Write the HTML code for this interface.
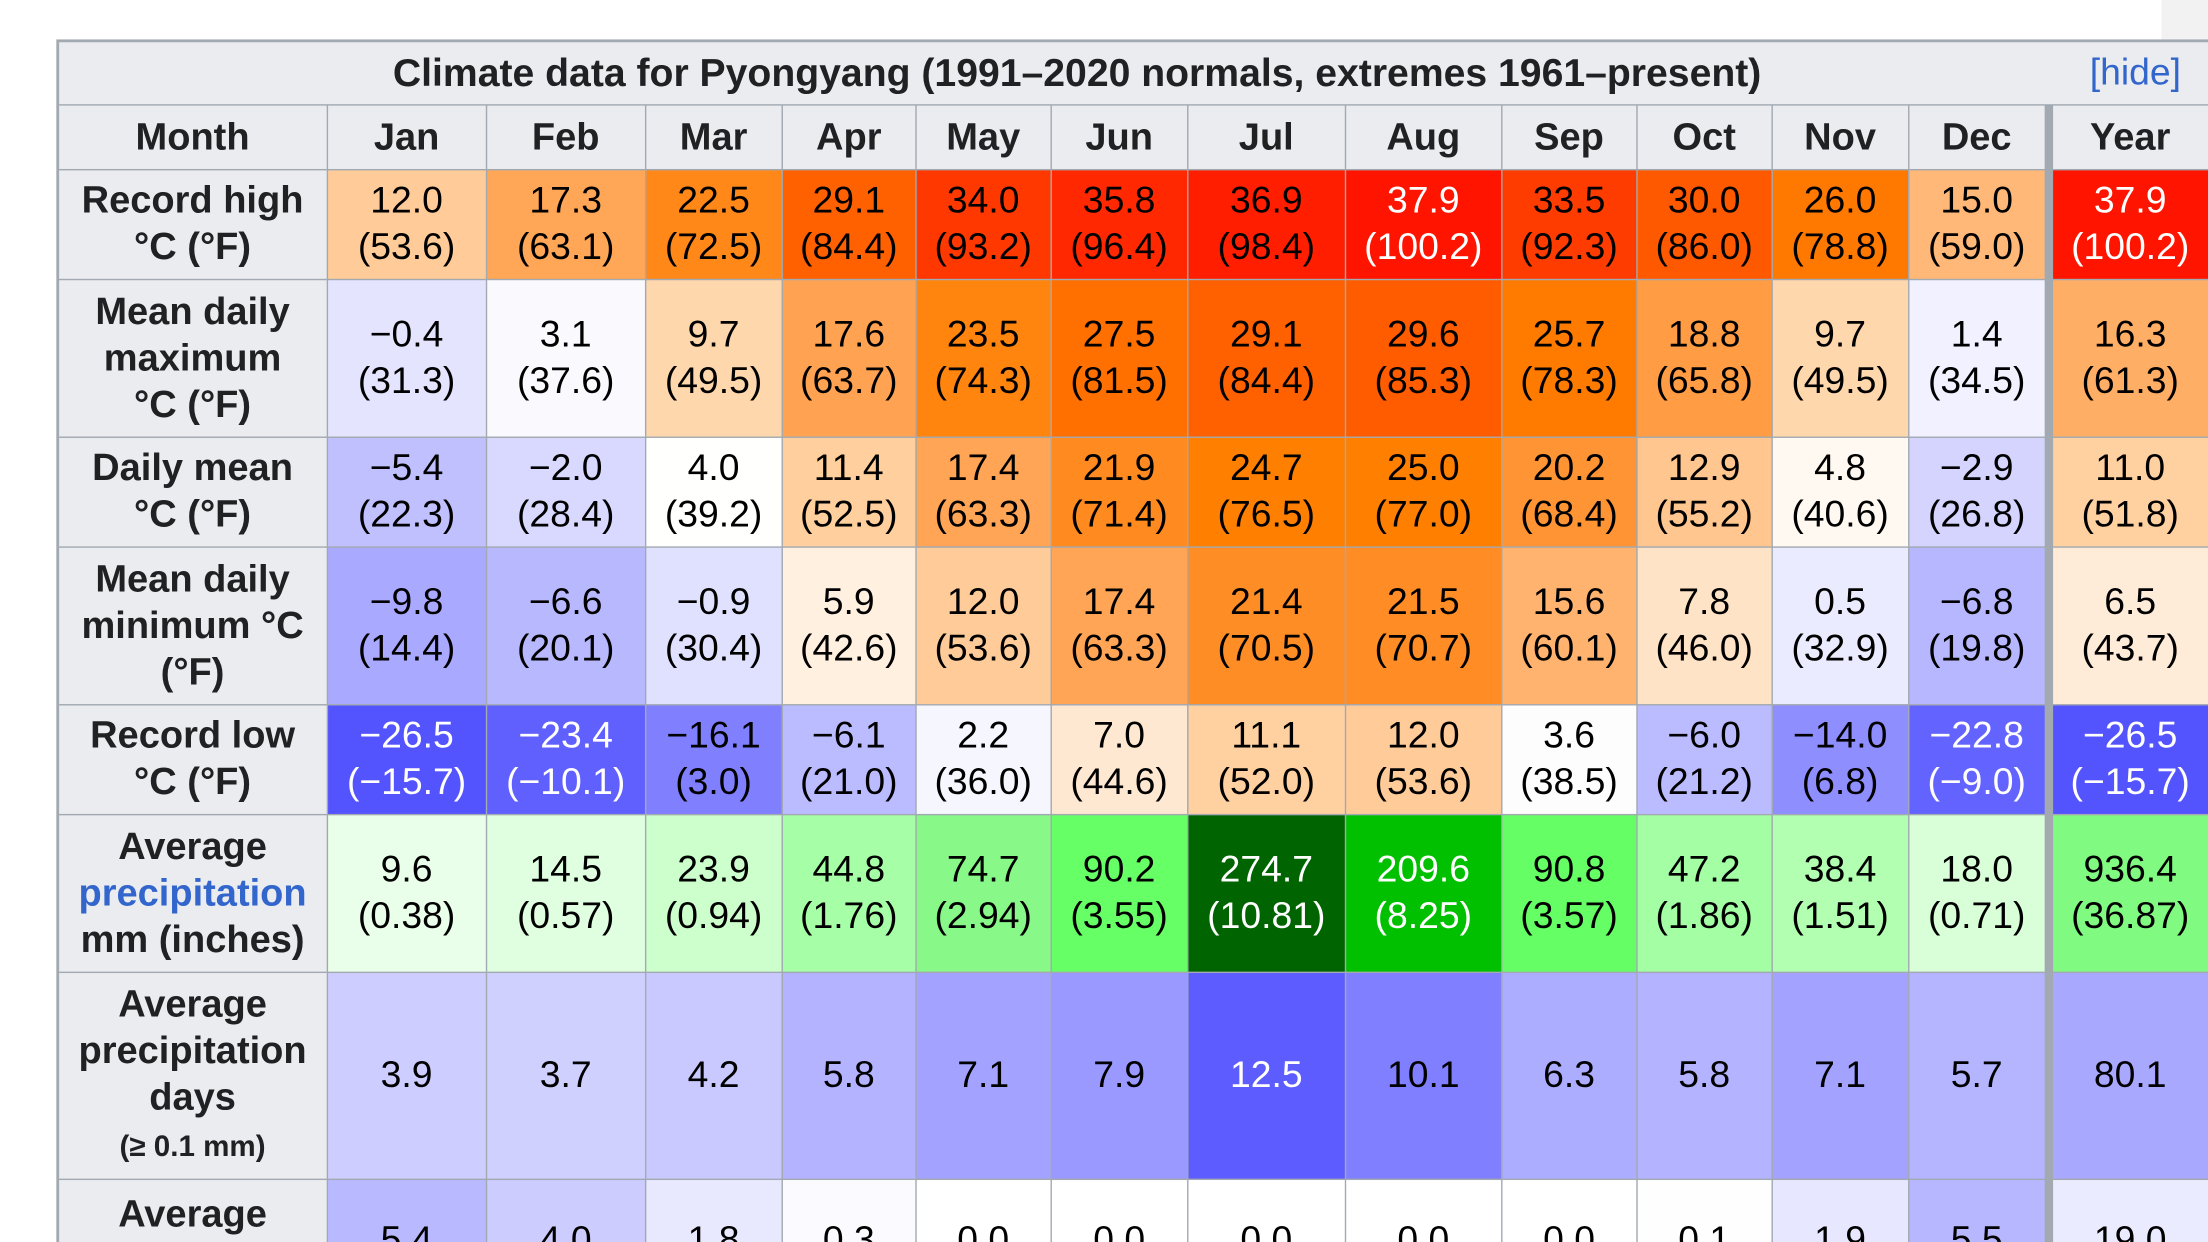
<!DOCTYPE html>
<html><head><meta charset="utf-8">
<style>
html,body{margin:0;padding:0;background:#fff;overflow:hidden;width:2208px;height:1242px}
#wrap{position:absolute;left:0;top:0;width:1568px;height:882px;transform:scale(1.408163);transform-origin:0 0;font-family:"Liberation Sans",Arial,sans-serif;color:#202122;overflow:hidden}
.c{position:absolute;display:flex;flex-direction:column;align-items:center;justify-content:center;text-align:center;font-size:26.5px;line-height:33px;box-sizing:border-box}
.h{background:#eaecf0;font-weight:bold;font-size:27px}
a{color:#3366cc;text-decoration:none}
</style></head><body>
<div id="wrap">
<div style="position:absolute;left:1535px;top:0;width:33px;height:30px;background:#f2f2f2"></div>
<div id="tbl" style="position:absolute;left:40px;top:28px;width:1540px;height:880px;background:#a2a9b1"></div>
</div>
<script>
const months=["Jan","Feb","Mar","Apr","May","Jun","Jul","Aug","Sep","Oct","Nov","Dec","Year"];
const recordHigh=[12.0,17.3,22.5,29.1,34.0,35.8,36.9,37.9,33.5,30.0,26.0,15.0,37.9];
const meanMax=[-0.4,3.1,9.7,17.6,23.5,27.5,29.1,29.6,25.7,18.8,9.7,1.4,16.3];
const dailyMean=[-5.4,-2.0,4.0,11.4,17.4,21.9,24.7,25.0,20.2,12.9,4.8,-2.9,11.0];
const meanMin=[-9.8,-6.6,-0.9,5.9,12.0,17.4,21.4,21.5,15.6,7.8,0.5,-6.8,6.5];
const recordLow=[-26.5,-23.4,-16.1,-6.1,2.2,7.0,11.1,12.0,3.6,-6.0,-14.0,-22.8,-26.5];
const precip=[9.6,14.5,23.9,44.8,74.7,90.2,274.7,209.6,90.8,47.2,38.4,18.0,936.4];
const precipDays=[3.9,3.7,4.2,5.8,7.1,7.9,12.5,10.1,6.3,5.8,7.1,5.7,80.1];
const snowDays=[5.4,4.0,1.8,0.3,0.0,0.0,0.0,0.0,0.0,0.1,1.9,5.5,19.0];

const colX=[41,232,345,458,555,650,746,843,955,1066,1162,1258,1355,1452];
const rowY=[120,198,310,388,500,578,690,837,910];

const tA=[[-30,[72,72,255]],[-26.5,[84,84,255]],[-23.4,[96,96,255]],[-16.1,[128,128,255]],[-9.8,[169,169,255]],[-6,[187,187,255]],[-2.9,[212,212,255]],[-0.9,[224,224,255]],[1.5,[242,242,255]],[4,[255,255,254]],[5.9,[255,240,224]],[7,[255,232,209]],[9.7,[255,215,172]],[12,[255,204,153]],[15,[255,184,120]],[17.5,[255,164,84]],[21.5,[255,140,36]],[24.8,[255,128,0]],[27.5,[255,112,0]],[29.6,[255,92,0]],[33.5,[255,60,0]],[35.8,[255,40,0]],[37.9,[255,20,0]],[45,[200,0,0]]];
const pA=[[0,[255,255,255]],[9.6,[234,255,234]],[23.9,[204,255,204]],[44.8,[166,255,166]],[74.7,[136,248,136]],[90,[102,255,102]],[209.6,[0,192,0]],[274.7,[0,100,0]],[400,[0,60,0]]];
const dA=[[0,[255,255,255]],[3.7,[208,208,255]],[5.8,[179,179,255]],[7.1,[163,163,255]],[10.1,[127,127,255]],[12.5,[92,92,255]],[20,[40,40,220]]];
function interp(a,v){if(v<=a[0][0])return a[0][1];for(let i=1;i<a.length;i++){if(v<=a[i][0]){const f=(v-a[i-1][0])/(a[i][0]-a[i-1][0]);return a[i-1][1].map((c,k)=>Math.round(c+(a[i][1][k]-c)*f));}}return a[a.length-1][1];}
const rgb=c=>`rgb(${c[0]},${c[1]},${c[2]})`;
const fmt=v=>(v<0?"\u2212":"")+Math.abs(v).toFixed(1);
const tbl=document.getElementById('tbl');
function cell(x0,y0,x1,y1,html,bg,color,name,cls){
  const d=document.createElement('div');
  d.className='c '+(cls||'');
  d.style.left=(x0+1-40)+'px';d.style.top=(y0+1-28)+'px';
  d.style.width=(x1-x0-1.5)+'px';d.style.height=(y1-y0-1.5)+'px';
  if(bg)d.style.background=bg; if(color)d.style.color=color;
  d.innerHTML='<div>'+html+'</div>';
  
  
  tbl.appendChild(d);return d;
}
const t=cell(41,29,1580,74,'<span style="position:absolute;left:237px;top:5px;font-size:27.8px">Climate data for Pyongyang (1991–2020 normals, extremes 1961–present)</span>','#eaecf0',null,'table-title','h');
const hide=document.createElement('a');
hide.textContent='[hide]';hide.href='#';
hide.style.cssText='position:absolute;left:1442px;top:5px;font-weight:normal;font-size:26.5px';


t.appendChild(hide);
function colEdges(i){return i<12?[colX[i+1],i==11?1452:colX[i+2]]:[1457,1568];}
cell(41,74,232,120,'Month','#eaecf0',null,'month-header','h');
months.forEach((m,i)=>{const e=colEdges(i);cell(e[0],74,e[1],120,m,'#eaecf0',null,'header-'+m.toLowerCase(),'h');});
const labels=['Record high<br>°C (°F)','Mean daily<br>maximum<br>°C (°F)','Daily mean<br>°C (°F)','Mean daily<br>minimum °C<br>(°F)','Record low<br>°C (°F)','Average<br><a href="#">precipitation</a><br>mm (inches)','Average<br>precipitation<br>days<br><span style="font-size:21px">(≥ 0.1 mm)</span>','<span style="position:absolute;top:8px;left:0;right:0">Average</span>'];
const lnames=['record-high-label','mean-max-label','daily-mean-label','mean-min-label','record-low-label','precip-label','precip-days-label','snow-days-label'];
labels.forEach((l,r)=>cell(41,rowY[r],232,rowY[r+1],l,'#eaecf0',null,lnames[r],'h'));
const temps=[recordHigh,meanMax,dailyMean,meanMin,recordLow];
const tn=['record-high','mean-max','daily-mean','mean-min','record-low'];
temps.forEach((arr,r)=>arr.forEach((v,i)=>{const e=colEdges(i);
  const white=v>=37||v<=-20;
  cell(e[0],rowY[r],e[1],rowY[r+1],fmt(v)+'<br>('+fmt(v*9/5+32)+')',rgb(interp(tA,v)),white?'#fff':'#000',tn[r]+'-'+months[i].toLowerCase());}));
precip.forEach((v,i)=>{const e=colEdges(i);const s=i==12?v/12:v;
  cell(e[0],rowY[5],e[1],rowY[6],v.toFixed(1)+'<br>('+(v/25.4).toFixed(2)+')',rgb(interp(pA,s)),s>=150?'#fff':'#000','precip-'+months[i].toLowerCase());});
precipDays.forEach((v,i)=>{const e=colEdges(i);const s=i==12?v/12:v;
  cell(e[0],rowY[6],e[1],rowY[7],v.toFixed(1),rgb(interp(dA,s)),s>=11?'#fff':'#000','precip-days-'+months[i].toLowerCase());});
snowDays.forEach((v,i)=>{const e=colEdges(i);const s=i==12?v/12:v;
  cell(e[0],rowY[7],e[1],rowY[8],'<span style="position:absolute;top:26px;left:0;right:0">'+v.toFixed(1)+'</span>',rgb(interp(dA,s)),'#000','snow-days-'+months[i].toLowerCase());});
</script>
</body></html>
